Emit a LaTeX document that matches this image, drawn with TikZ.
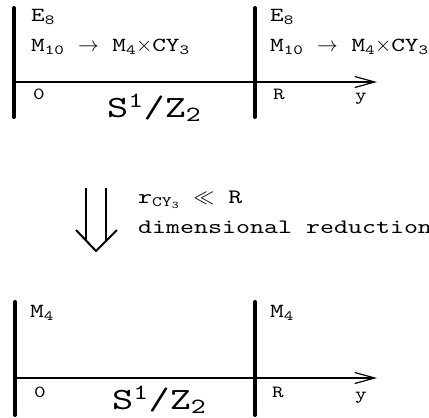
\documentclass[tikz,border=0pt]{standalone}
\usepackage{fontspec}
\setmainfont{lmmono10-regular.otf}[FakeStretch=1.3]
\usetikzlibrary{arrows.meta, positioning}

\begin{document}
\begin{tikzpicture}[x=1pt, y=-1pt,
  wall/.style={line width=4pt, line cap=round},
  axis/.style={line width=1.2pt, -{Straight Barb[length=20pt, width=11pt]}},
  lbl/.style={inner sep=0pt, anchor=base west, font=\fontsize{20}{22}\selectfont},
  ptlbl/.style={inner sep=0pt, anchor=base west, font=\fontsize{17}{19}\selectfont},
  orb/.style={inner sep=0pt, anchor=base west, font=\fontsize{31}{34}\selectfont},
  note/.style={inner sep=0pt, anchor=base west, font=\fontsize{20.5}{22}\selectfont}
]
  \useasboundingbox (0,0) rectangle (429,418);

  % upper panel: ten dimensions
  \coordinate (wA) at (14,8);   \coordinate (wA') at (14,117);
  \coordinate (wB) at (255,8);  \coordinate (wB') at (255,117);
  \coordinate (o) at (14,82);   \coordinate (end) at (377,82);
  \draw[wall] (wA) -- (wA');
  \draw[wall] (wB) -- (wB');
  \draw[axis] (o) -- (end);
  \node[lbl] (eL) at (31,21) {E\textsubscript{8}};
  \node[lbl] (mL) at (31,51) {M\textsubscript{10} $\rightarrow$ M\textsubscript{4}$\times$CY\textsubscript{3}};
  \node[lbl] (eR) at (270,21) {E\textsubscript{8}};
  \node[lbl] (mR) at (270,51) {M\textsubscript{10} $\rightarrow$ M\textsubscript{4}$\times$CY\textsubscript{3}};
  \node[ptlbl] (zero) at (33,99) {0};
  \node[ptlbl] (rr) at (273,99) {R};
  \node[ptlbl] (yy) at (355,100) {y};
  \node[orb] (orbA) at (107,117) {S\textsuperscript{1}/Z\textsubscript{2}};

  % reduction step
  \draw[line width=2pt] (86,188) -- (86,241);
  \draw[line width=2pt] (106,188) -- (106,241);
  \draw[line width=2pt] (76,230) -- (96,251) -- (117,230);
  \node[note] (cond) at (138,203) {r\textsubscript{CY\textsubscript{3}} $\ll$ R};
  \node[note] (dimred) at (138,233) {dimensional reduction};

  % lower panel: four dimensions
  \coordinate (wC) at (15,302);  \coordinate (wC') at (15,415);
  \coordinate (wD) at (255,302); \coordinate (wD') at (255,415);
  \coordinate (o') at (15,378);  \coordinate (end') at (377,378);
  \draw[wall] (wC) -- (wC');
  \draw[wall] (wD) -- (wD');
  \draw[axis] (o') -- (end');
  \node[lbl] (m4L) at (30,317) {M\textsubscript{4}};
  \node[lbl] (m4R) at (270,317) {M\textsubscript{4}};
  \node[ptlbl] (zero') at (34,397) {0};
  \node[ptlbl] (rr') at (272,397) {R};
  \node[ptlbl] (yy') at (355,399) {y};
  \node[orb] (orbB) at (112,409) {S\textsuperscript{1}/Z\textsubscript{2}};
\end{tikzpicture}
\end{document}
